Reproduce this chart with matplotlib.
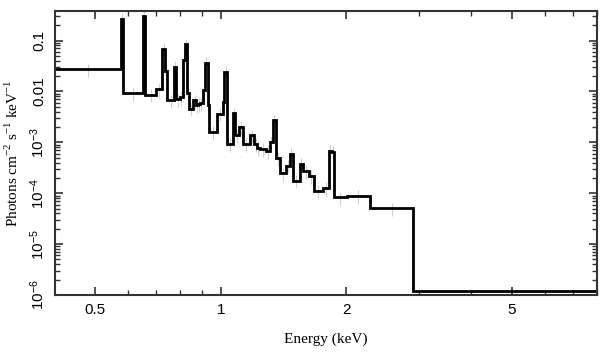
import numpy as np
import matplotlib
matplotlib.use("Agg")
import matplotlib.pyplot as plt
from matplotlib.ticker import FixedLocator, NullFormatter, LogLocator

plt.rcParams['mathtext.fontset'] = 'custom'
plt.rcParams['mathtext.rm'] = 'Liberation Serif'
plt.rcParams['mathtext.sf'] = 'Liberation Sans'

# bin edges (keV) and folded model values (photons cm^-2 s^-1 keV^-1)
edges = [0.40, 0.575, 0.581, 0.652, 0.659, 0.700, 0.724, 0.734, 0.744, 0.773,
         0.782, 0.799, 0.810, 0.822, 0.831, 0.840, 0.858, 0.873, 0.883, 0.892,
         0.906, 0.917, 0.930, 0.939, 0.982, 1.011, 1.020, 1.034, 1.068, 1.084,
         1.108, 1.129, 1.175, 1.203, 1.223, 1.241, 1.283, 1.311, 1.333, 1.359,
         1.390, 1.432, 1.464, 1.491, 1.547, 1.575, 1.628, 1.671, 1.758, 1.817,
         1.850, 1.870, 2.006, 2.282, 2.901, 8.0]
flux = [0.0272, 0.268, 0.0094, 0.308, 0.0087, 0.0111, 0.0686, 0.0252, 0.0067, 0.0306,
        0.0070, 0.0077, 0.0406, 0.084, 0.0092, 0.0046, 0.0067, 0.0054, 0.0056, 0.0058,
        0.0106, 0.037, 0.0054, 0.00159, 0.00367, 0.0062, 0.0244, 0.00094, 0.0037, 0.00137,
        0.0020, 0.00094, 0.00137, 0.00094, 0.00078, 0.00075, 0.00067, 0.00101, 0.0027, 0.0005,
        0.000246, 0.00035, 0.0006, 0.000177, 0.00038, 0.00027, 0.00022, 0.000112, 0.000127, 0.00069,
        0.00064, 0.0000826, 0.0000893, 0.0000501, 1.22e-6]

xticks = [0.5, 1, 2, 5]
xticklabels = ['0.5', '1', '2', '5']
yticks = [1e-6, 1e-5, 1e-4, 1e-3, 1e-2, 1e-1]
yticklabels = [r'$\mathsf{10^{-6}}$', r'$\mathsf{10^{-5}}$', r'$\mathsf{10^{-4}}$',
               r'$\mathsf{10^{-3}}$', '0.01', '0.1']

edges = np.array(edges)
flux = np.array(flux)
centers = np.sqrt(edges[:-1] * edges[1:])

fig = plt.figure(figsize=(6.09, 3.57), dpi=100)
ax = fig.add_axes([0.0903, 0.1737, 0.8897, 0.7953])

# faint data crosses
ax.errorbar(centers[:-1], flux[:-1], yerr=flux[:-1] * 0.3, fmt='none',
            ecolor='#d0d0d0', elinewidth=0.8, zorder=1)
ax.stairs(flux, edges, color='black', linewidth=2, baseline=None, zorder=2)

ax.set_xscale('log')
ax.set_yscale('log')
ax.set_xlim(0.40, 8.0)
ax.set_ylim(1e-6, 0.38)

ax.xaxis.set_major_locator(FixedLocator(xticks))
ax.set_xticklabels(xticklabels)
ax.xaxis.set_minor_locator(FixedLocator([0.6, 0.7, 0.8, 0.9, 3, 4, 6, 7, 8]))
ax.xaxis.set_minor_formatter(NullFormatter())
ax.yaxis.set_major_locator(FixedLocator(yticks))
ax.set_yticklabels(yticklabels, rotation=90, va='center')
ax.yaxis.set_minor_locator(LogLocator(base=10, subs=np.arange(2, 10), numticks=100))
ax.yaxis.set_minor_formatter(NullFormatter())

ax.tick_params(which='both', direction='in', top=True, right=True, color='#333333')
ax.tick_params(which='major', length=6, width=1.2, labelsize=11, pad=6)
ax.tick_params(which='minor', length=3.5, width=1.0)
for lab in ax.get_xticklabels() + ax.get_yticklabels():
    lab.set_fontfamily('Liberation Sans')
for s in ax.spines.values():
    s.set_linewidth(1.5)
    s.set_color('#333333')

ax.set_xlabel('Energy (keV)', fontfamily='Liberation Serif', fontsize=11, labelpad=11)
ax.set_ylabel(r'Photons cm$^{-2}$ s$^{-1}$ keV$^{-1}$', fontfamily='Liberation Serif',
              fontsize=11, labelpad=5)

fig.savefig('out.png', dpi=100)
